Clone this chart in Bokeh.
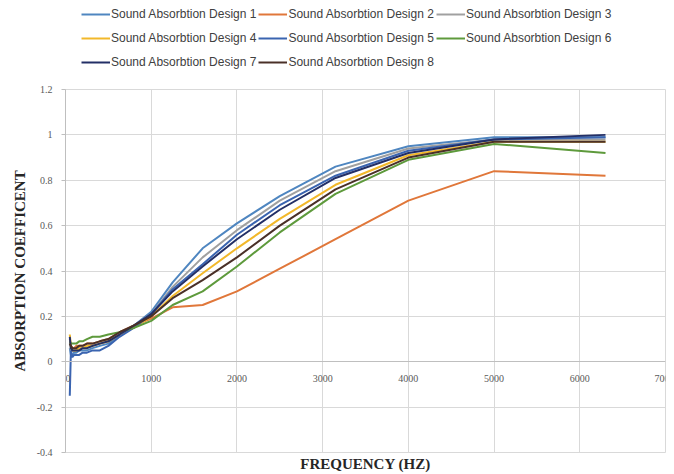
from bokeh.plotting import figure
from bokeh.layouts import column
from bokeh.models import (Range1d, FixedTicker, Legend, LegendItem, LinearAxis)
from bokeh.embed import file_html
from bokeh.resources import INLINE

freq = [50, 63, 80, 100, 125, 160, 200, 250, 315, 400, 500, 630, 800, 1000,
        1250, 1600, 2000, 2500, 3150, 4000, 5000, 6300]

design1 = [0.06, 0.03, 0.03, 0.04, 0.04, 0.05, 0.05, 0.05, 0.06, 0.07, 0.08, 0.12, 0.16, 0.22,
           0.35, 0.50, 0.61, 0.73, 0.86, 0.95, 0.99, 0.99]
design2 = [0.10, 0.07, 0.06, 0.06, 0.07, 0.07, 0.07, 0.08, 0.08, 0.09, 0.10, 0.13, 0.16, 0.19,
           0.24, 0.25, 0.31, 0.41, 0.54, 0.71, 0.84, 0.82]
design3 = [0.08, 0.05, 0.05, 0.05, 0.05, 0.06, 0.06, 0.06, 0.07, 0.08, 0.09, 0.12, 0.16, 0.21,
           0.33, 0.46, 0.58, 0.71, 0.84, 0.94, 0.98, 0.98]
design4 = [0.12, 0.07, 0.05, 0.05, 0.05, 0.06, 0.06, 0.07, 0.07, 0.08, 0.09, 0.12, 0.15, 0.20,
           0.29, 0.39, 0.50, 0.63, 0.78, 0.91, 0.97, 0.97]
design5 = [-0.15, 0.05, 0.02, 0.03, 0.03, 0.03, 0.04, 0.04, 0.05, 0.05, 0.07, 0.11, 0.15, 0.21,
           0.32, 0.43, 0.56, 0.69, 0.82, 0.93, 0.98, 0.99]
design6 = [0.09, 0.08, 0.08, 0.08, 0.08, 0.09, 0.09, 0.10, 0.11, 0.11, 0.12, 0.13, 0.15, 0.18,
           0.25, 0.31, 0.42, 0.57, 0.74, 0.89, 0.96, 0.92]
design7 = [0.11, 0.06, 0.05, 0.05, 0.05, 0.05, 0.06, 0.06, 0.07, 0.08, 0.09, 0.12, 0.16, 0.21,
           0.31, 0.42, 0.54, 0.67, 0.81, 0.92, 0.98, 1.00]
design8 = [0.08, 0.07, 0.06, 0.06, 0.06, 0.07, 0.07, 0.08, 0.08, 0.09, 0.10, 0.13, 0.16, 0.20,
           0.28, 0.36, 0.46, 0.60, 0.76, 0.90, 0.97, 0.97]

series_names = ["Sound Absorbtion Design 1", "Sound Absorbtion Design 2",
                "Sound Absorbtion Design 3", "Sound Absorbtion Design 4",
                "Sound Absorbtion Design 5", "Sound Absorbtion Design 6",
                "Sound Absorbtion Design 7", "Sound Absorbtion Design 8"]
series_values = [design1, design2, design3, design4, design5, design6, design7, design8]
colors = ["#4f86c0", "#e0773a", "#a0a0a0", "#f2b82a", "#3a64b0", "#5e9a3c", "#232f66", "#4a3028"]

x_ticks = [0, 1000, 2000, 3000, 4000, 5000, 6000, 7000]
x_tick_labels = ["\u00a0\u00a00", "1000", "2000", "3000", "4000", "5000", "6000", "7000"]
y_ticks = [-0.4, -0.2, 0, 0.2, 0.4, 0.6, 0.8, 1.0, 1.2]
y_tick_labels = ["-0.4", "-0.2", "0", "0.2", "0.4", "0.6", "0.8", "1", "1.2"]

# ---------------- legend strip ----------------
leg = figure(width=674, height=81, output_backend="svg", toolbar_location=None,
             x_range=Range1d(-2, -1), y_range=Range1d(0, 1),
             x_axis_location=None, y_axis_location=None)
leg.min_border_left = 65
leg.min_border_right = 9
leg.min_border_top = 0
leg.min_border_bottom = 0
leg.outline_line_color = None
leg.xgrid.visible = False
leg.ygrid.visible = False

items = []
for name, vals, c in zip(series_names, series_values, colors):
    r = leg.line(freq, vals, line_color=c, line_width=2)
    items.append(LegendItem(label=name, renderers=[r]))

legend = Legend(items=items, orientation="horizontal", ncols=3,
                location=(16, 8), label_text_font="Liberation Sans",
                label_text_font_size="12px", label_text_color="#404040",
                glyph_width=29, glyph_height=22, label_height=22, label_standoff=1,
                spacing=2, padding=0, margin=0, border_line_color=None,
                background_fill_alpha=0)
leg.add_layout(legend, "center")

# ---------------- chart ----------------
p = figure(width=674, height=393, output_backend="svg", toolbar_location=None,
           x_range=Range1d(0, 7000), y_range=Range1d(-0.4, 1.2))
p.min_border_left = 65
p.min_border_right = 9
p.min_border_top = 8
p.min_border_bottom = 22
p.outline_line_color = "#d9d9d9"

p.xgrid.ticker = FixedTicker(ticks=x_ticks)
p.ygrid.ticker = FixedTicker(ticks=y_ticks)
p.xgrid.grid_line_color = "#d9d9d9"
p.ygrid.grid_line_color = "#d9d9d9"

yax = p.yaxis[0]
yax.ticker = FixedTicker(ticks=y_ticks)
yax.major_label_overrides = {t: l for t, l in zip(y_ticks, y_tick_labels)}
yax.major_label_text_font = "Liberation Serif"
yax.major_label_text_font_size = "10px"
yax.major_label_text_color = "#595959"
yax.major_label_standoff = 9
yax.major_tick_out = 4
yax.major_tick_in = 0
yax.minor_tick_out = 0
yax.minor_tick_in = 0
yax.major_tick_line_color = "#bfbfbf"
yax.axis_line_color = "#bfbfbf"
yax.axis_label = "ABSORPTION COEFFICENT"
yax.axis_label_text_font = "Liberation Serif"
yax.axis_label_text_font_style = "bold"
yax.axis_label_text_font_size = "15px"
yax.axis_label_text_color = "#262626"
yax.axis_label_standoff = 6

# horizontal axis crossing at y = 0 (line + tick labels)
xax = p.xaxis[0]
xax.fixed_location = 0
xax.ticker = FixedTicker(ticks=x_ticks)
xax.major_label_overrides = {t: l for t, l in zip(x_ticks, x_tick_labels)}
xax.major_label_text_font = "Liberation Serif"
xax.major_label_text_font_size = "10px"
xax.major_label_text_color = "#595959"
xax.major_label_standoff = 11
xax.major_tick_out = 0
xax.major_tick_in = 0
xax.minor_tick_out = 0
xax.minor_tick_in = 0
xax.axis_line_color = "#bfbfbf"

# axis title along the bottom
title_axis = LinearAxis(ticker=FixedTicker(ticks=[]), axis_line_color=None,
                        major_tick_out=0, major_tick_in=0, minor_tick_out=0, minor_tick_in=0,
                        major_label_standoff=0,
                        axis_label="FREQUENCY (HZ)", axis_label_text_font="Liberation Serif",
                        axis_label_text_font_style="bold", axis_label_text_font_size="15px",
                        axis_label_text_color="#262626", axis_label_standoff=3)
p.add_layout(title_axis, "below")

for vals, c in zip(series_values, colors):
    p.line(freq, vals, line_color=c, line_width=2)

layout = column(leg, p, spacing=0)
open("out.html", "w").write(file_html(layout, INLINE))
